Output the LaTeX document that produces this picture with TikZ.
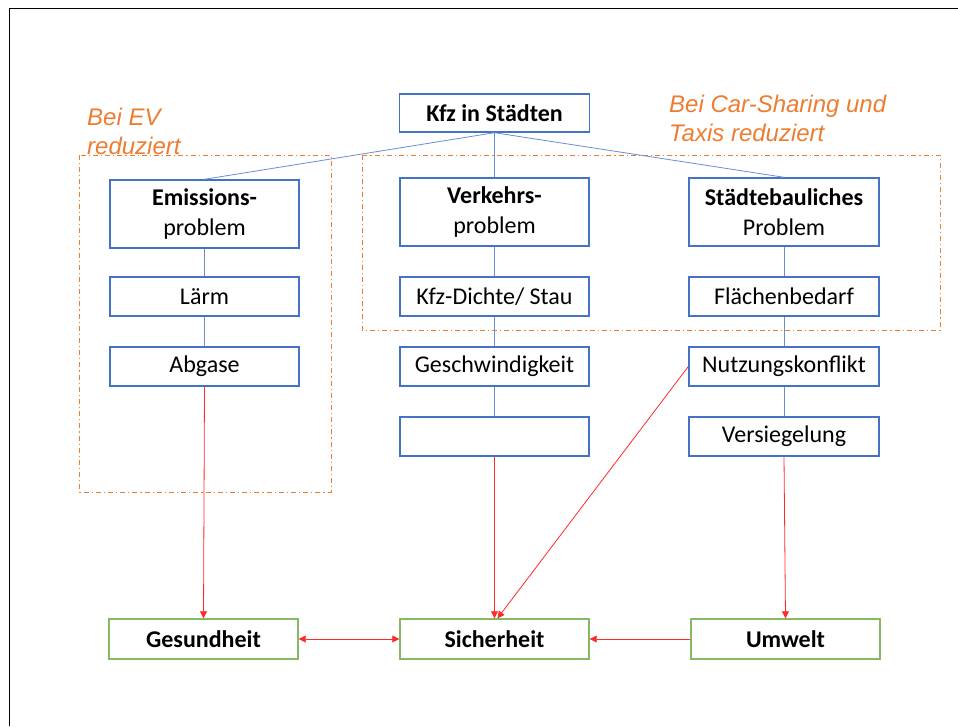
\documentclass[tikz,border=0pt]{standalone}
\usepackage{fontspec}
\setmainfont{Carlito}
\newfontfamily\notefont{Liberation Sans}
\usetikzlibrary{arrows.meta}
\definecolor{boxblue}{HTML}{4472C4}
\definecolor{linkblue}{HTML}{6A8ED3}
\definecolor{boxgreen}{HTML}{70AD47}
\definecolor{notes}{HTML}{ED7D31}
\definecolor{arrowred}{HTML}{FF2A2A}
\tikzset{
  probbox/.style={draw=boxblue, line width=1.4pt, minimum width=189pt, minimum height=39pt, inner sep=0pt, align=center, font=\fontsize{24}{30}\selectfont},
  bigbox/.style={probbox, minimum height=68pt},
  goalbox/.style={draw=boxgreen!85, line width=1.4pt, minimum width=189pt, minimum height=40pt, inner sep=0pt, font=\fontsize{24}{30}\selectfont\bfseries},
  link/.style={draw=linkblue, line width=0.8pt},
  effect/.style={draw=arrowred, line width=0.8pt, -{Triangle[length=7pt,width=7pt]}},
  zone/.style={draw=notes, line width=1pt, dash pattern=on 5pt off 3pt on 1.2pt off 3pt},
  note/.style={text=notes, font=\fontsize{24}{29}\selectfont\notefont\itshape, align=left, inner sep=0pt}
}
\begin{document}
\begin{tikzpicture}[x=1pt,y=-1pt]
\useasboundingbox (0,0) rectangle (958,726);
\fill[white] (0,0) rectangle (958,726);
% frame
\draw[black, line width=1.3pt] (9.5,726) -- (9.5,8.3) -- (958,8.3);
% zones
\draw[zone] (79,155) rectangle (331,492);
\draw[zone] (362,155) rectangle (940,330);
% notes
\node[note, anchor=north west] (n1) at (87,108) {Bei EV\\reduziert};
\node[note, anchor=north west] (n2) at (669,95) {Bei Car-Sharing und\\Taxis reduziert};
% nodes
\node[probbox, minimum width=190pt, minimum height=38pt, font=\fontsize{24}{30}\selectfont\bfseries] (kfz) at (494.5,113) {Kfz in Städten};
\node[bigbox] (emi) at (204.5,214) {\textbf{Emissions-}\\problem};
\node[bigbox] (ver) at (494.5,212) {\textbf{Verkehrs-}\\problem};
\node[bigbox, minimum width=190pt] (sta) at (784,212) {\textbf{Städtebauliches}\\Problem};
\node[probbox] (laerm) at (204.5,296.5) {Lärm};
\node[probbox] (dichte) at (494.5,296.5) {Kfz-Dichte/ Stau};
\node[probbox, minimum width=190pt] (flaeche) at (784,296.5) {Flächenbedarf};
\node[probbox] (abgase) at (204.5,366.5) {Abgase};
\node[probbox] (geschw) at (494.5,366.5) {Geschwindigkeit};
\node[probbox, minimum width=190pt] (nutz) at (784,366.5) {Nutzungskonflikt};
\node[probbox] (leer) at (494.5,436.5) {};
\node[probbox, minimum width=190pt] (versieg) at (784,436.5) {Versiegelung};
\node[goalbox] (ges) at (203.5,639) {Gesundheit};
\node[goalbox] (sich) at (494.5,639) {Sicherheit};
\node[goalbox] (umw) at (785.5,639) {Umwelt};
% tree links
\draw[link] (kfz.south) -- (emi.north);
\draw[link] (kfz.south) -- (ver.north);
\draw[link] (kfz.south) -- (sta.north);
\draw[link] (emi) -- (laerm);
\draw[link] (laerm) -- (abgase);
\draw[link] (ver) -- (dichte);
\draw[link] (dichte) -- (geschw);
\draw[link] (geschw) -- (leer);
\draw[link] (sta) -- (flaeche);
\draw[link] (flaeche) -- (nutz);
\draw[link] (nutz) -- (versieg);
% effects
\draw[effect] (abgase.south) -- (ges.north);
\draw[effect] (leer.south) -- (sich.north);
\draw[effect] (nutz.west) -- ([xshift=3pt]sich.north);
\draw[effect] (versieg.south) -- (umw.north);
\draw[effect, {Triangle[length=7pt,width=7pt]}-{Triangle[length=7pt,width=7pt]}] (ges.east) -- (sich.west);
\draw[effect] (umw.west) -- (sich.east);
\end{tikzpicture}
\end{document}
